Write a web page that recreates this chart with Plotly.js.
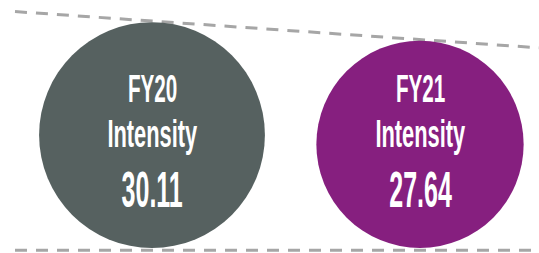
<!DOCTYPE html>
<html>
<head>
<meta charset="utf-8">
<script src="https://cdn.plot.ly/plotly-3.0.1.min.js"></script>
<style>
  html, body { margin: 0; padding: 0; background: #ffffff; }
  #chart { width: 539px; height: 253px; }
  .annotation-text { transform-box: fill-box; transform-origin: center; }
</style>
</head>
<body>
<div id="chart"></div>
<script>
// ---- data ----
const categories = ['FY20', 'FY21'];
const metricLabel = 'Intensity';
const values = [30.11, 27.64];
const valueLabels = ['30.11', '27.64'];
const colors = ['#566160', '#861f7f'];

// ---- layout constants ----
const W = 539, H = 253;
const pxPerUnit = 7.5;          // circle diameter px per value unit
const baselinePx = 248;         // pixel row where circles rest
const catStartPx = 152, catStepPx = 268;

const yMin = -(H - baselinePx) / pxPerUnit;
const yMax = baselinePx / pxPerUnit;
const xMin = -catStartPx / catStepPx;
const xMax = (W - catStartPx) / catStepPx;

const idx = categories.map((c, i) => i);

// circles: diameter proportional to value, resting on a common baseline
const circles = {
  type: 'scatter', mode: 'markers',
  x: idx, y: values.map(v => v / 2),
  marker: { size: values.map(v => v * pxPerUnit), color: colors, line: { width: 0 }, opacity: 1 },
  hoverinfo: 'skip', showlegend: false
};

// top dashed line tangent to circle tops, extended
const slope = (values[1] - values[0]) / (idx[1] - idx[0]);
const xStart = (15 - catStartPx) / catStepPx;
const topLine = {
  type: 'scatter', mode: 'lines',
  x: [xStart, xMax], y: [values[0] + slope * (xStart - idx[0]) + 0.15, values[0] + slope * (xMax - idx[0]) + 0.15],
  line: { color: '#a6a6a6', width: 3, dash: '12px,9px' },
  hoverinfo: 'skip', showlegend: false
};
const bottomLine = {
  type: 'scatter', mode: 'lines',
  x: [xStart, xMax], y: [-0.3, -0.3],
  line: { color: '#a6a6a6', width: 3, dash: '12px,9px' },
  hoverinfo: 'skip', showlegend: false
};

const font = 'Liberation Sans, Arial, sans-serif';
const py = px => 1 - px / H;
const annotations = [];
const squeeze = [];   // horizontal condensing per annotation (style)
categories.forEach((c, i) => {
  annotations.push({ x: idx[i], y: py(88.5), xref: 'x', yref: 'paper', text: '<b>' + c + '</b>', showarrow: false,
    font: { family: font, size: 39, color: '#ffffff' }, xanchor: 'center', yanchor: 'middle' });
  squeeze.push(0.53);
  annotations.push({ x: idx[i], y: py(133.5), xref: 'x', yref: 'paper', text: '<b>' + metricLabel + '</b>', showarrow: false,
    font: { family: font, size: 39, color: '#ffffff' }, xanchor: 'center', yanchor: 'middle' });
  squeeze.push(0.56);
  annotations.push({ x: idx[i], y: py(189.5), xref: 'x', yref: 'paper', text: '<b>' + valueLabels[i] + '</b>', showarrow: false,
    font: { family: font, size: 50, color: '#ffffff' }, xanchor: 'center', yanchor: 'middle' });
  squeeze.push(0.50);
});

const layout = {
  width: W, height: H,
  margin: { l: 0, r: 0, t: 0, b: 0, pad: 0 },
  paper_bgcolor: '#ffffff', plot_bgcolor: '#ffffff',
  xaxis: { range: [xMin, xMax], visible: false, fixedrange: true },
  yaxis: { range: [yMin, yMax], visible: false, fixedrange: true },
  annotations: annotations,
  showlegend: false
};

Plotly.newPlot('chart', [topLine, bottomLine, circles], layout, { displayModeBar: false, staticPlot: true }).then(() => {
  document.querySelectorAll('#chart .annotation').forEach(g => {
    const k = +g.getAttribute('data-index');
    const t = g.querySelector('.annotation-text');
    if (t && squeeze[k] !== undefined) t.style.transform = 'scaleX(' + squeeze[k] + ')';
  });
});
</script>
</body>
</html>
